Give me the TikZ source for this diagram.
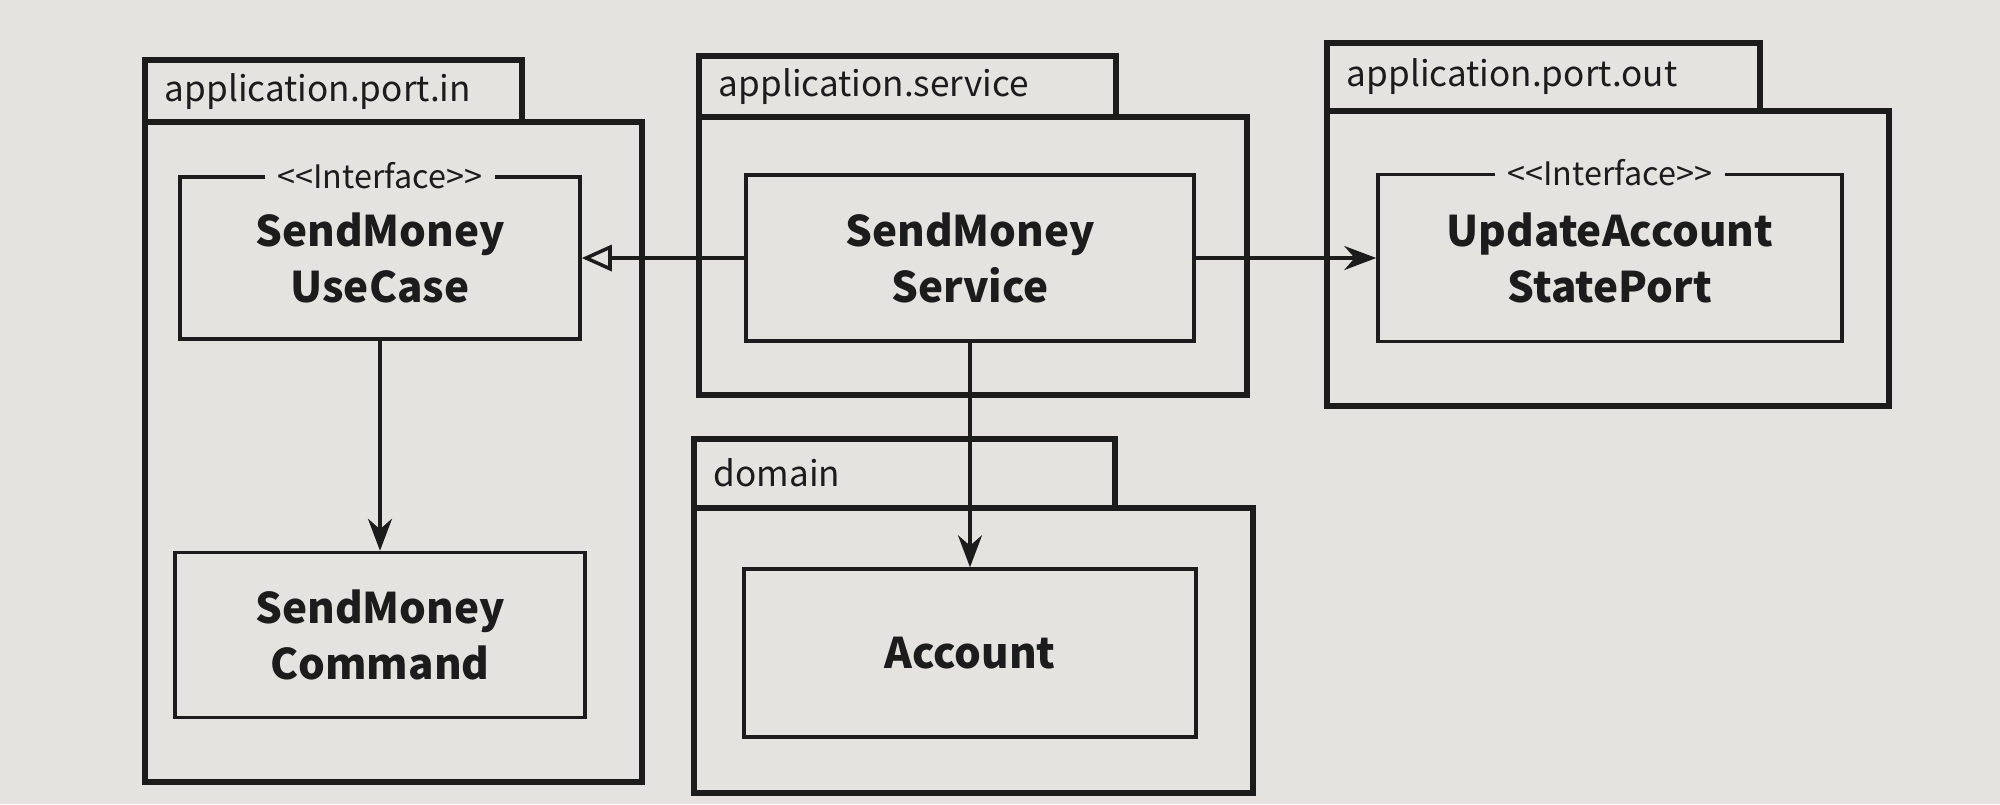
\documentclass[tikz,border=0pt]{standalone}
\usepackage{fontspec}
\setmainfont{Noto Sans CJK KR}
\newfontfamily\stereofont{Noto Sans CJK KR}
\usepackage{tikz}
\usetikzlibrary{arrows.meta, positioning}
\definecolor{pagegray}{RGB}{228,227,223}
\definecolor{inkblack}{RGB}{28,28,28}

\begin{document}
\begin{tikzpicture}[
    y=-1cm,
    pkg/.style={draw=inkblack, line width=1.7pt},
    pkglabel/.style={anchor=west, inner sep=0pt, text=inkblack, font=\fontsize{10}{12}\selectfont},
    classbox/.style={draw=inkblack, line width=1pt, align=center, text=inkblack,
        font=\bfseries\fontsize{12}{16}\selectfont},
    stereo/.style={fill=pagegray, inner sep=3.5pt, text=inkblack, font=\stereofont\fontsize{9.2}{11}\selectfont},
    dep/.style={draw=inkblack, line width=1pt, -{Stealth[length=0.32cm, width=0.24cm]}},
    impl/.style={draw=inkblack, line width=1pt, -{Triangle[open, length=0.3cm, width=0.26cm]}}
]

% Page
\fill[pagegray] (0,0) rectangle (20,8.04);

% Package application.port.in
\draw[pkg] (1.45,0.60) rectangle (5.22,1.22);
\draw[pkg] (1.45,1.22) rectangle (6.42,7.82);
\node[pkglabel] (lblPortIn) at (1.64,0.92) {application.port.in};
\node[classbox, minimum width=4.0cm, minimum height=1.62cm] (usecase) at (3.80,2.58) {SendMoney\\UseCase};
\node[stereo] (usecaseStereo) at (usecase.north) {<<Interface>>};
\node[classbox, minimum width=4.1cm, minimum height=1.65cm] (command) at (3.80,6.35) {SendMoney\\Command};

% Package application.service
\draw[pkg] (6.99,0.56) rectangle (11.16,1.17);
\draw[pkg] (6.99,1.17) rectangle (12.47,3.95);
\node[pkglabel] (lblService) at (7.18,0.87) {application.service};
\node[classbox, minimum width=4.48cm, minimum height=1.66cm] (service) at (9.70,2.58) {SendMoney\\Service};

% Package application.port.out
\draw[pkg] (13.27,0.43) rectangle (17.60,1.11);
\draw[pkg] (13.27,1.11) rectangle (18.89,4.06);
\node[pkglabel] (lblPortOut) at (13.46,0.77) {application.port.out};
\node[classbox, minimum width=4.64cm, minimum height=1.67cm] (stateport) at (16.10,2.58) {UpdateAccount\\StatePort};
\node[stereo] (stateportStereo) at (stateport.north) {<<Interface>>};

% Package domain
\draw[pkg] (6.94,4.39) rectangle (11.15,5.08);
\draw[pkg] (6.94,5.08) rectangle (12.53,7.93);
\node[pkglabel] (lblDomain) at (7.13,4.73) {domain};
\node[classbox, minimum width=4.52cm, minimum height=1.68cm] (account) at (9.70,6.53) {Account};

% Dependencies
\draw[impl] (service.west) -- (usecase.east);
\draw[dep] (service.east) -- (stateport.west);
\draw[dep] (usecase.south) -- (command.north);
\draw[dep] (service.south) -- (account.north);

\end{tikzpicture}
\end{document}
